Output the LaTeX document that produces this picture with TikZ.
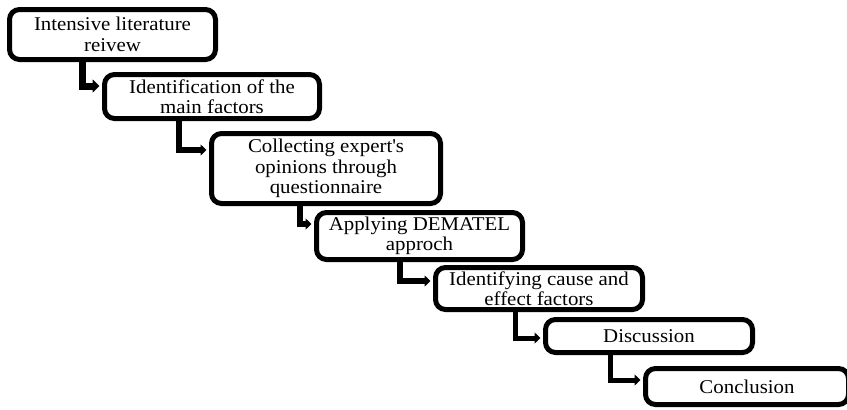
\documentclass[tikz,border=0pt]{standalone}
\usepackage{fontspec}
\setmainfont[FakeStretch=1.07]{Liberation Serif}
\usetikzlibrary{arrows.meta}
\tikzset{
  stepbox/.style={draw=black, line width=5pt, rounded corners=10pt, align=center,
    inner sep=0pt, font=\fontsize{19.5pt}{20.5pt}\selectfont},
  conn/.style={draw=black, line width=6pt, shorten >=2.5pt,
    -{Triangle[length=6pt,width=11pt]}},
}
\newcommand{\mybox}[6]{% name, left, top, right, bottom, text
  \node[stepbox, minimum width={#4pt-#2pt-5pt}, minimum height={#5pt-#3pt-5pt}]
    (#1) at ({(#2pt+#4pt)/2},{-(#3pt+#5pt)/2}) {#6};}
\begin{document}
\begin{tikzpicture}
\useasboundingbox (0,0) rectangle (847pt,-410pt);
\clip (0,0) rectangle (847pt,-410pt);
\mybox{b1}{7}{7}{218}{62}{Intensive literature\\reivew}
\mybox{b2}{102}{72}{322}{121}{Identification of the\\main factors}
\mybox{b3}{209}{131}{443}{206}{Collecting expert\textquotesingle s\\opinions through\\questionnaire}
\mybox{b4}{314}{210}{525}{262}{Applying DEMATEL\\approch}
\mybox{b5}{433}{265}{645}{312}{Identifying cause and\\effect factors}
\mybox{b6}{543}{317}{755}{355}{Discussion}
\mybox{b7}{643}{366}{851}{407}{Conclusion}
\coordinate (k1) at (82pt,-86pt);
\coordinate (k2) at (179pt,-150pt);
\coordinate (k3) at (300pt,-224pt);
\coordinate (k4) at (400pt,-281pt);
\coordinate (k5) at (515pt,-338pt);
\coordinate (k6) at (610pt,-380pt);
\draw[conn, line width=7pt, -{Triangle[length=7pt,width=13pt]}] (b1.south -| k1) -- (k1) -- (b2.west |- k1);
\draw[conn] (b2.south -| k2) -- (k2) -- (b3.west |- k2);
\draw[conn] (b3.south -| k3) -- (k3) -- (b4.west |- k3);
\draw[conn] (b4.south -| k4) -- (k4) -- (b5.west |- k4);
\draw[conn, line width=5pt] (b5.south -| k5) -- (k5) -- (b6.west |- k5);
\draw[conn, line width=5pt] (b6.south -| k6) -- (k6) -- (b7.west |- k6);
\end{tikzpicture}
\end{document}
